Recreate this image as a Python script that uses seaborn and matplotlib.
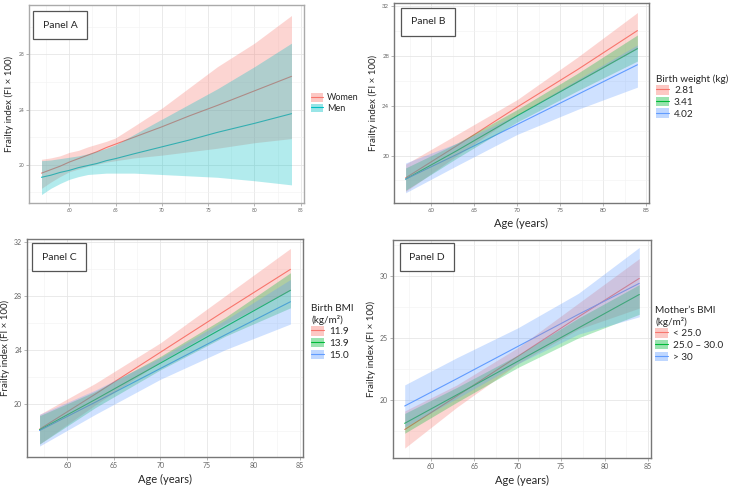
import pandas as pd
import seaborn as sns
import matplotlib.pyplot as plt
from matplotlib.patches import Patch
from matplotlib.lines import Line2D
from matplotlib.ticker import MultipleLocator

# ---- Panel A: sex ----
ages_a = [57, 58, 59, 60, 61, 62, 63, 64, 65, 67, 70, 73, 76, 80, 84]
women_fit = [19.4, 19.65, 19.9, 20.2, 20.45, 20.7, 20.95, 21.25, 21.5, 22.0, 22.75, 23.55, 24.3, 25.35, 26.4]
women_lo = [18.3, 18.75, 19.15, 19.5, 19.7, 19.9, 20.05, 20.2, 20.3, 20.5, 20.7, 20.95, 21.2, 21.6, 21.9]
women_hi = [20.4, 20.5, 20.65, 20.9, 21.05, 21.3, 21.5, 21.7, 21.95, 22.8, 24.1, 25.6, 27.1, 28.8, 30.8]
men_fit = [19.1, 19.25, 19.45, 19.6, 19.8, 19.95, 20.1, 20.3, 20.45, 20.8, 21.3, 21.8, 22.35, 23.0, 23.7]
men_lo = [17.85, 18.3, 18.65, 18.95, 19.15, 19.3, 19.35, 19.4, 19.4, 19.4, 19.3, 19.2, 19.1, 18.85, 18.55]
men_hi = [20.3, 20.35, 20.45, 20.55, 20.65, 20.8, 21.0, 21.2, 21.45, 22.2, 23.3, 24.4, 25.5, 27.1, 28.8]

# ---- Panels B-D share these ages ----
ages = [57, 63, 70, 77, 84]

# Panel B: birth weight (kg)
bw_labels = ['2.81', '3.41', '4.02']
bw_fit = [[18.2, 20.8, 23.9, 26.9, 30.05], [18.1, 20.4, 23.2, 25.9, 28.6], [18.1, 20.1, 22.5, 24.9, 27.3]]
bw_lo = [[17.1, 20.0, 23.3, 25.9, 28.6], [17.2, 19.8, 22.7, 25.2, 27.6], [17.0, 19.2, 21.7, 23.7, 25.5]]
bw_hi = [[19.3, 21.7, 24.5, 27.9, 31.5], [19.0, 21.0, 23.7, 26.6, 29.7], [19.4, 21.0, 23.3, 26.1, 28.9]]

# Panel C: birth BMI
bmi_labels = ['11.9', '13.9', '15.0']
bmi_fit = [[18.1, 20.7, 23.8, 26.9, 29.95], [18.05, 20.3, 23.0, 25.7, 28.4], [18.0, 20.1, 22.6, 25.1, 27.55]]
bmi_lo = [[17.0, 19.9, 23.1, 25.9, 28.4], [17.0, 19.7, 22.5, 25.0, 27.1], [16.85, 19.2, 21.8, 24.0, 25.9]]
bmi_hi = [[19.2, 21.5, 24.5, 28.0, 31.5], [19.1, 20.9, 23.5, 26.4, 29.7], [19.2, 21.0, 23.4, 26.2, 29.2]]

# Panel D: mother's BMI
mbmi_labels = ['< 25.0', '25.0 \u2013 30.0', '> 30']
mbmi_fit = [[17.6, 20.3, 23.5, 26.7, 29.8], [18.1, 20.4, 23.1, 25.8, 28.5], [19.5, 21.7, 24.3, 26.9, 29.4]]
mbmi_lo = [[16.1, 19.4, 22.9, 25.7, 27.4], [17.3, 19.8, 22.6, 25.0, 26.9], [17.8, 20.1, 22.9, 25.3, 26.7]]
mbmi_hi = [[19.1, 21.2, 24.2, 27.8, 31.4], [18.9, 21.0, 23.6, 26.6, 29.3], [21.2, 23.4, 25.8, 28.6, 32.3]]

RED, GREEN, BLUE, TEAL = '#F8766D', '#00BA38', '#619CFF', '#00BFC4'
ALPHA = 0.3

sns.set_style('white')
plt.rcParams['font.family'] = ['Lato', 'DejaVu Sans']

fig = plt.figure(figsize=(7.3, 4.87), dpi=100)


def add_axes(px_left, px_top, px_right, px_bottom):
    W, H = 730, 487
    return fig.add_axes([px_left / W, 1 - px_bottom / H, (px_right - px_left) / W, (px_bottom - px_top) / H])


def draw_panel(ax, x, labels, fits, los, his, colors, ylim, ystep, tick_size, frame_col):
    rows = []
    for lab, fit in zip(labels, fits):
        for a, v in zip(x, fit):
            rows.append({'age': a, 'fi': v, 'group': lab})
    df = pd.DataFrame(rows)
    sns.lineplot(data=df, x='age', y='fi', hue='group', hue_order=labels,
                 palette=colors, linewidth=0.8, legend=False, ax=ax, zorder=2)
    for lo, hi, c in zip(los, his, colors):
        ax.fill_between(x, lo, hi, color=c, alpha=ALPHA, lw=0, zorder=3)
    ax.set_xlim(55.65, 85.35)
    ax.set_ylim(*ylim)
    ax.xaxis.set_major_locator(MultipleLocator(5))
    ax.xaxis.set_minor_locator(MultipleLocator(2.5))
    ax.yaxis.set_major_locator(MultipleLocator(ystep))
    ax.yaxis.set_minor_locator(MultipleLocator(ystep / 2))
    ax.grid(which='major', color='#E6E6E6', lw=0.6)
    ax.grid(which='minor', color='#F2F2F2', lw=0.4)
    ax.set_axisbelow(True)
    ax.tick_params(which='major', labelsize=tick_size, labelcolor='#666666', color='#999999',
                   length=2, width=0.5, pad=1.5, bottom=True, left=True)
    ax.tick_params(which='minor', length=0)
    for s in ax.spines.values():
        s.set_color(frame_col)
        s.set_linewidth(1.0)
    ax.set_xlabel('')
    ax.set_ylabel('Frailty index (FI \u00d7 100)', fontsize=7, labelpad=3)


def legend(handles_cols, labels, title, px_x, px_y, size):
    handles = [(Patch(facecolor=c, alpha=ALPHA + 0.1, edgecolor='none'), Line2D([], [], color=c, lw=0.8))
               for c in handles_cols]
    leg = fig.legend(handles, labels, title=title, loc='upper left',
                     bbox_to_anchor=(px_x / 730, 1 - px_y / 487), frameon=False,
                     fontsize=size, title_fontsize=size, handlelength=1.3, handleheight=1.1,
                     labelspacing=0.15, handletextpad=0.5, borderpad=0, borderaxespad=0,
                     alignment='left')
    return leg


def panel_box(text, cx, cy):
    fig.text(cx / 730, 1 - cy / 487, text, ha='center', va='center', fontsize=7.5,
             bbox=dict(boxstyle='square,pad=0.9', fc='white', ec='#555555', lw=0.9))


# Panel A
axA = add_axes(29, 5, 304, 203)
draw_panel(axA, ages_a, ['Women', 'Men'], [women_fit, men_fit], [women_lo, men_lo],
           [women_hi, men_hi], [RED, TEAL], (17.24, 31.56), 4, 3.5, '#AAAAAA')
legend([RED, TEAL], ['Women', 'Men'], None, 311, 93, 6.5)
panel_box('Panel A', 60, 25)

# Panel B
axB = add_axes(394, 3, 649, 203)
draw_panel(axB, ages, bw_labels, bw_fit, bw_lo, bw_hi, [RED, GREEN, BLUE],
           (16.18, 32.27), 4, 4.3, '#777777')
axB.set_xlabel('Age (years)', fontsize=8, labelpad=4)
legend([RED, GREEN, BLUE], bw_labels, 'Birth weight (kg)', 656, 74, 7.2)
panel_box('Panel B', 428, 22)

# Panel C
axC = add_axes(27, 239, 303, 457)
draw_panel(axC, ages, bmi_labels, bmi_fit, bmi_lo, bmi_hi, [RED, GREEN, BLUE],
           (16.04, 32.2), 4, 5, '#777777')
axC.set_xlabel('Age (years)', fontsize=8, labelpad=4)
legend([RED, GREEN, BLUE], bmi_labels, 'Birth BMI\n(kg/m\u00b2)', 311, 304, 7.2)
panel_box('Panel C', 59, 257)

# Panel D
axD = add_axes(393, 240, 651, 458)
draw_panel(axD, ages, mbmi_labels, mbmi_fit, mbmi_lo, mbmi_hi, [RED, GREEN, BLUE],
           (15.3, 32.9), 5, 5, '#777777')
axD.set_xlabel('Age (years)', fontsize=8, labelpad=4)
legend([RED, GREEN, BLUE], mbmi_labels, 'Mother\u2019s BMI\n(kg/m\u00b2)', 655, 306, 7.2)
panel_box('Panel D', 427, 257)

fig.savefig('out.png', dpi=100)
